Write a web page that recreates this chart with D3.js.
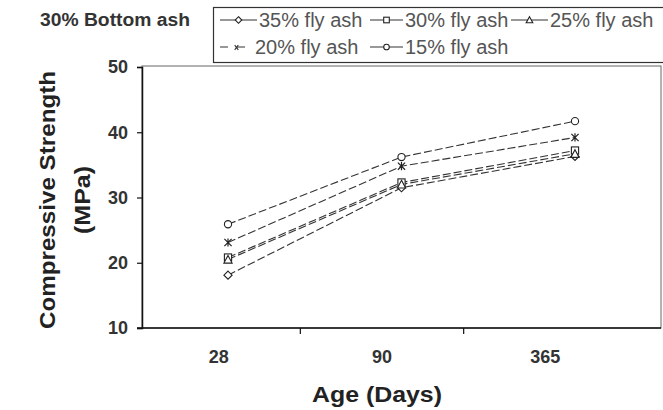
<!DOCTYPE html>
<html>
<head>
<meta charset="utf-8">
<script src="https://cdn.jsdelivr.net/npm/d3@7"></script>
<style>
  body { margin: 0; background: #fff; }
  svg { display: block; }
  .tick text { font-family: "Liberation Sans", Arial, sans-serif; font-weight: bold; font-size: 18px; fill: #333; }
  .legend text { font-family: "Liberation Sans", Arial, sans-serif; font-size: 20px; fill: #555; }
</style>
</head>
<body>
<script>
// Data
var days = ["28", "90", "365"];
var series = ["35% fly ash", "30% fly ash", "25% fly ash", "20% fly ash", "15% fly ash"];
var markers = ["diamond", "square", "triangle", "star", "circle"];
var strength35 = [18.1, 31.5, 36.3];
var strength30 = [20.8, 32.3, 37.2];
var strength25 = [20.5, 32.0, 36.7];
var strength20 = [23.1, 34.8, 39.2];
var strength15 = [25.9, 36.2, 41.7];
var yTicks = [10, 20, 30, 40, 50];

var allValues = [strength35, strength30, strength25, strength20, strength15];

var width = 663, height = 410;
var plot = { left: 142, right: 661, top: 66, bottom: 328 };

var svg = d3.select("body")
    .append("svg")
    .attr("width", width)
    .attr("height", height);

// scales
var yScale = d3.scaleLinear()
    .domain([10, 50])
    .range([plot.bottom, plot.top + 1]);

// category axis (labels + tick marks between categories)
var xBand = d3.scaleBand()
    .domain(days)
    .range([137, 627]);

// marker positions (scan is slightly stretched compared with the labels)
var xPoint = d3.scalePoint()
    .domain(days)
    .range([228, 575]);

// frame
svg.append("rect")
    .attr("x", plot.left)
    .attr("y", plot.top)
    .attr("width", plot.right - plot.left)
    .attr("height", plot.bottom - plot.top)
    .attr("fill", "none")
    .attr("stroke", "#666")
    .attr("stroke-width", 1);

// y axis
var yAxis = d3.axisLeft(yScale)
    .tickValues(yTicks)
    .tickSize(5)
    .tickPadding(9);

svg.append("g")
    .attr("class", "axis")
    .attr("transform", "translate(" + plot.left + ",0)")
    .call(yAxis)
    .call(function (g) {
        g.select(".domain").attr("stroke", "#111").attr("stroke-width", 1.5);
        g.selectAll(".tick line").attr("stroke", "#111").attr("stroke-width", 1.2);
    });

// x axis
var xAxis = d3.axisBottom(xBand)
    .tickSize(0)
    .tickPadding(22);

var gx = svg.append("g")
    .attr("class", "axis")
    .attr("transform", "translate(0," + plot.bottom + ")")
    .call(xAxis);
gx.select(".domain").remove();

svg.append("line")
    .attr("x1", plot.left - 5)
    .attr("x2", plot.right)
    .attr("y1", plot.bottom)
    .attr("y2", plot.bottom)
    .attr("stroke", "#111")
    .attr("stroke-width", 1.5);

// tick marks between categories
svg.selectAll(".xsep")
    .data(days.slice(1))
    .enter()
    .append("line")
    .attr("class", "xsep")
    .attr("x1", function (d) { return xBand(d); })
    .attr("x2", function (d) { return xBand(d); })
    .attr("y1", plot.bottom)
    .attr("y2", plot.bottom + 6)
    .attr("stroke", "#111")
    .attr("stroke-width", 1.2);

// axis titles
svg.append("text")
    .attr("x", 377)
    .attr("y", 402)
    .attr("text-anchor", "middle")
    .attr("font-family", "Liberation Sans, Arial, sans-serif")
    .attr("font-weight", "bold")
    .attr("font-size", 22)
    .attr("textLength", 130)
    .attr("lengthAdjust", "spacingAndGlyphs")
    .attr("fill", "#222")
    .text("Age (Days)");

var ytitle = svg.append("text")
    .attr("transform", "translate(55,200) rotate(-90)")
    .attr("text-anchor", "middle")
    .attr("font-family", "Liberation Sans, Arial, sans-serif")
    .attr("font-weight", "bold")
    .attr("font-size", 22)
    .attr("fill", "#222");
ytitle.append("tspan").attr("x", 0).attr("dy", 0)
    .attr("textLength", 258).attr("lengthAdjust", "spacingAndGlyphs")
    .text("Compressive Strength");
ytitle.append("tspan").attr("x", 0).attr("y", 35)
    .attr("textLength", 68).attr("lengthAdjust", "spacingAndGlyphs")
    .text("(MPa)");

// chart title
svg.append("text")
    .attr("x", 40)
    .attr("y", 26)
    .attr("font-family", "Liberation Sans, Arial, sans-serif")
    .attr("font-weight", "bold")
    .attr("font-size", 18)
    .attr("textLength", 150)
    .attr("lengthAdjust", "spacingAndGlyphs")
    .attr("fill", "#333")
    .text("30% Bottom ash");

// marker drawing
function drawMarker(g, type, x, y, s) {
    s = s || 3.6;
    if (type == "circle") {
        g.append("circle").attr("cx", x).attr("cy", y).attr("r", s)
            .attr("fill", "#fff").attr("stroke", "#222").attr("stroke-width", 1.1);
    } else if (type == "square") {
        g.append("rect").attr("x", x - s).attr("y", y - s).attr("width", 2 * s).attr("height", 2 * s)
            .attr("fill", "#fff").attr("stroke", "#222").attr("stroke-width", 1.1);
    } else if (type == "diamond") {
        g.append("path")
            .attr("d", "M" + x + "," + (y - s - 0.5) + "L" + (x + s + 0.5) + "," + y + "L" + x + "," + (y + s + 0.5) + "L" + (x - s - 0.5) + "," + y + "Z")
            .attr("fill", "#fff").attr("stroke", "#222").attr("stroke-width", 1.1);
    } else if (type == "triangle") {
        g.append("path")
            .attr("d", "M" + x + "," + (y - s - 0.5) + "L" + (x + s + 0.5) + "," + (y + s) + "L" + (x - s - 0.5) + "," + (y + s) + "Z")
            .attr("fill", "#fff").attr("stroke", "#222").attr("stroke-width", 1.1);
    } else if (type == "star") {
        g.append("path")
            .attr("d", "M" + (x - s) + "," + (y - s) + "L" + (x + s) + "," + (y + s) +
                "M" + (x + s) + "," + (y - s) + "L" + (x - s) + "," + (y + s) +
                "M" + x + "," + (y - s - 0.5) + "L" + x + "," + (y + s + 0.5))
            .attr("fill", "none").attr("stroke", "#222").attr("stroke-width", 1.2);
    } else if (type == "x") {
        g.append("path")
            .attr("d", "M" + (x - s + 1) + "," + (y - s + 1) + "L" + (x + s - 1) + "," + (y + s) +
                "M" + (x + s - 1) + "," + (y - s + 1) + "L" + (x - s + 1) + "," + (y + s))
            .attr("fill", "none").attr("stroke", "#333").attr("stroke-width", 1.1);
    }
}

// lines
var line = d3.line()
    .x(function (d, i) { return xPoint(days[i]); })
    .y(function (d) { return yScale(d); });

var lines = svg.append("g");
allValues.forEach(function (vals, k) {
    lines.append("path")
        .datum(vals)
        .attr("d", line)
        .attr("fill", "none")
        .attr("stroke", "#333")
        .attr("stroke-width", 1.1)
        .attr("stroke-dasharray", "8,3");
});

var marks = svg.append("g");
allValues.forEach(function (vals, k) {
    vals.forEach(function (v, i) {
        drawMarker(marks, markers[k], xPoint(days[i]), yScale(v));
    });
});

// legend
var legend = svg.append("g").attr("class", "legend");
legend.append("rect")
    .attr("x", 213.5)
    .attr("y", 7.5)
    .attr("width", 470)
    .attr("height", 55)
    .attr("fill", "#fff")
    .attr("stroke", "#333")
    .attr("stroke-width", 1.2);

var legendPos = [
    { x: 220, y: 20, w: 37 },
    { x: 370, y: 20, w: 33 },
    { x: 511, y: 20, w: 37 },
    { x: 220, y: 47, w: 33 },
    { x: 370, y: 47, w: 33 }
];

series.forEach(function (name, k) {
    var p = legendPos[k];
    legend.append("line")
        .attr("x1", p.x).attr("x2", p.x + p.w)
        .attr("y1", p.y).attr("y2", p.y)
        .attr("stroke", "#333").attr("stroke-width", 1.1)
        .attr("stroke-dasharray", k == 3 ? "8,9" : null);
    drawMarker(legend, markers[k] == "star" ? "x" : markers[k], p.x + p.w / 2, p.y, 2.8);
    legend.append("text")
        .attr("x", p.x + p.w + 2)
        .attr("y", p.y + 7)
        .text(name);
});
</script>
</body>
</html>
